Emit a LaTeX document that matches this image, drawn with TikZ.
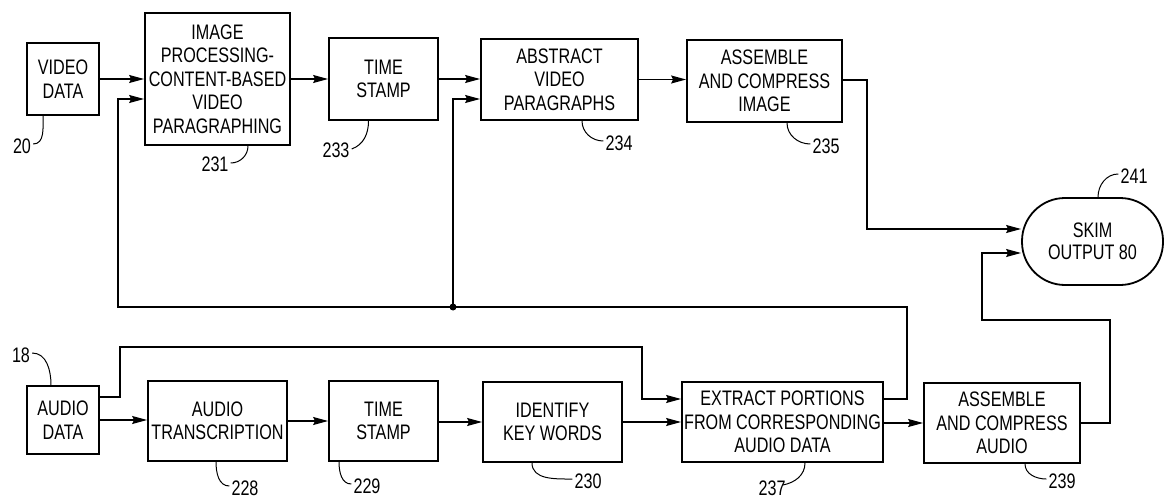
\documentclass[tikz,border=0pt]{standalone}
\usepackage{fontspec}
\setmainfont{Liberation Sans}[FakeStretch=0.77]
\usetikzlibrary{arrows.meta,calc}
\tikzset{
  blk/.style={draw,line width=1.8pt,rectangle,align=center,inner sep=0pt,font=\fontsize{21}{23.5}\selectfont},
  conn/.style={line width=1.3pt},
  arr/.style={conn,-{Stealth[length=15pt,width=8pt,inset=2pt]}},
  lead/.style={line width=1pt},
  num/.style={font=\fontsize{21}{23}\selectfont,inner sep=0pt},
  dot/.style={circle,fill,inner sep=0pt,minimum size=7pt}
}
\begin{document}
\begin{tikzpicture}[x=1pt,y=1pt]
\useasboundingbox (0,0) rectangle (1166,-500);
% top row
\node[blk,minimum width=72,minimum height=72] (vdata) at (63,-79) {VIDEO\\DATA};
\node[blk,minimum width=145,minimum height=132] (b231) at (217.5,-79) {IMAGE\\PROCESSING-\\CONTENT-BASED\\VIDEO\\PARAGRAPHING};
\node[blk,minimum width=109,minimum height=82] (b233) at (383.5,-79) {TIME\\STAMP};
\node[blk,minimum width=157,minimum height=81] (b234) at (559.5,-79.5) {ABSTRACT\\VIDEO\\PARAGRAPHS};
\node[blk,minimum width=155,minimum height=82] (b235) at (764.5,-81) {ASSEMBLE\\AND COMPRESS\\IMAGE};
\node[blk,minimum width=141,minimum height=87,rounded corners=43pt,font=\fontsize{21}{22}\selectfont] (skim) at (1092.5,-241.5) {SKIM\\OUTPUT 80};
% bottom row
\node[blk,minimum width=72,minimum height=68] (adata) at (63,-420) {AUDIO\\DATA};
\node[blk,minimum width=139,minimum height=80] (b228) at (217.5,-421) {AUDIO\\TRANSCRIPTION};
\node[blk,minimum width=109,minimum height=80] (b229) at (383.5,-421) {TIME\\STAMP};
\node[blk,minimum width=139,minimum height=80] (b230) at (552.5,-422) {IDENTIFY\\KEY WORDS};
\node[blk,minimum width=201,minimum height=80] (b237) at (782.5,-422) {EXTRACT PORTIONS\\FROM CORRESPONDING\\AUDIO DATA};
\node[blk,minimum width=156,minimum height=80] (b239) at (1002,-423) {ASSEMBLE\\AND COMPRESS\\AUDIO};
% coordinates
\coordinate (fbR) at (907,-307);
\coordinate (jn) at (453,-307);
\coordinate (fbL) at (118,-307);
\coordinate (bpL) at (120,-347);
\coordinate (bpT) at (642,-347);
\coordinate (imR) at (867,-229);
\coordinate (aoR) at (1110,-320);
\coordinate (aoL) at (982,-320);
% top connectors
\draw[arr] (vdata.east) -- (b231.west);
\draw[arr] (b231.east) -- (b233.west);
\draw[arr] (b233.east) -- ($(b234.west)+(0,0.5)$);
\draw[arr] (b234.east) -- ($(b235.west)+(0,1.5)$);
\draw[arr] ($(b235.east)+(0,1)$) -| (imR) -- ($(skim.west)+(0,12.5)$);
% feedback
\draw[arr] ($(b237.east)+(0,23)$) -| (fbR) -- (fbL) |- ($(b231.west)+(0,-20)$);
\draw[arr] (jn) |- ($(b234.west)+(0,-19.5)$);
\node[dot] (jdot) at (jn) {};
% bottom connectors
\draw[arr] (adata.east) -- ($(b228.west)+(0,1)$);
\draw[arr] (b228.east) -- (b229.west);
\draw[arr] ($(b229.east)+(0,-1)$) -- (b230.west);
\draw[arr] (b230.east) -- (b237.west);
\draw[arr] ($(b237.east)+(0,-1)$) -- (b239.west);
\draw[arr] ($(adata.east)+(0,23)$) -| (bpL) -- (bpT) |- ($(b237.west)+(0,23)$);
\draw[arr] (b239.east) -| (aoR) -- (aoL) |- ($(skim.west)+(0,-11.5)$);
% reference numbers
\node[num] (l20) at (22,-146) {20};
\draw[lead] ($(vdata.south)+(-20,0)$) to[out=-90,in=0] ($(l20.east)+(2,2)$);
\node[num] (l231) at (215,-164) {231};
\draw[lead] ($(b231.south)+(30.5,0)$) to[out=-90,in=0] ($(l231.east)+(2,1)$);
\node[num] (l233) at (336,-150) {233};
\draw[lead] ($(b233.south)+(-15,0)$) to[out=-90,in=20] ($(l233.east)+(2,1)$);
\node[num] (l234) at (619,-143) {234};
\draw[lead] ($(b234.south)+(22.5,0)$) to[out=-90,in=180] ($(l234.west)+(-2,2)$);
\node[num] (l235) at (826,-146) {235};
\draw[lead] ($(b235.south)+(22.5,0)$) to[out=-90,in=180] ($(l235.west)+(-2,2)$);
\node[num] (l241) at (1134,-176) {241};
\draw[lead] ($(skim.north)+(5.5,0)$) to[out=90,in=180] ($(l241.west)+(-2,2)$);
\node[num] (l18) at (21,-355) {18};
\draw[lead] ($(l18.east)+(2,2)$) to[out=0,in=90] ($(adata.north)+(-12,0)$);
\node[num] (l228) at (245,-488) {228};
\draw[lead] ($(b228.south)+(-1.5,0)$) to[out=-90,in=180] ($(l228.west)+(-2,2)$);
\node[num] (l229) at (367,-486) {229};
\draw[lead] ($(b229.south)+(-44.5,0)$) to[out=-90,in=180] ($(l229.west)+(-2,2)$);
\node[num] (l230) at (588,-481) {230};
\draw[lead] ($(b230.south)+(-20.5,0)$) to[out=-90,in=180] ($(l230.west)+(-2,2)$);
\node[num] (l237) at (772,-488) {237};
\draw[lead] ($(b237.south)+(22.5,0)$) to[out=-90,in=10] ($(l237.east)+(-3,3)$);
\node[num] (l239) at (1062,-481) {239};
\draw[lead] ($(b239.south)+(23,0)$) to[out=-90,in=180] ($(l239.west)+(-2,2)$);
\end{tikzpicture}
\end{document}
